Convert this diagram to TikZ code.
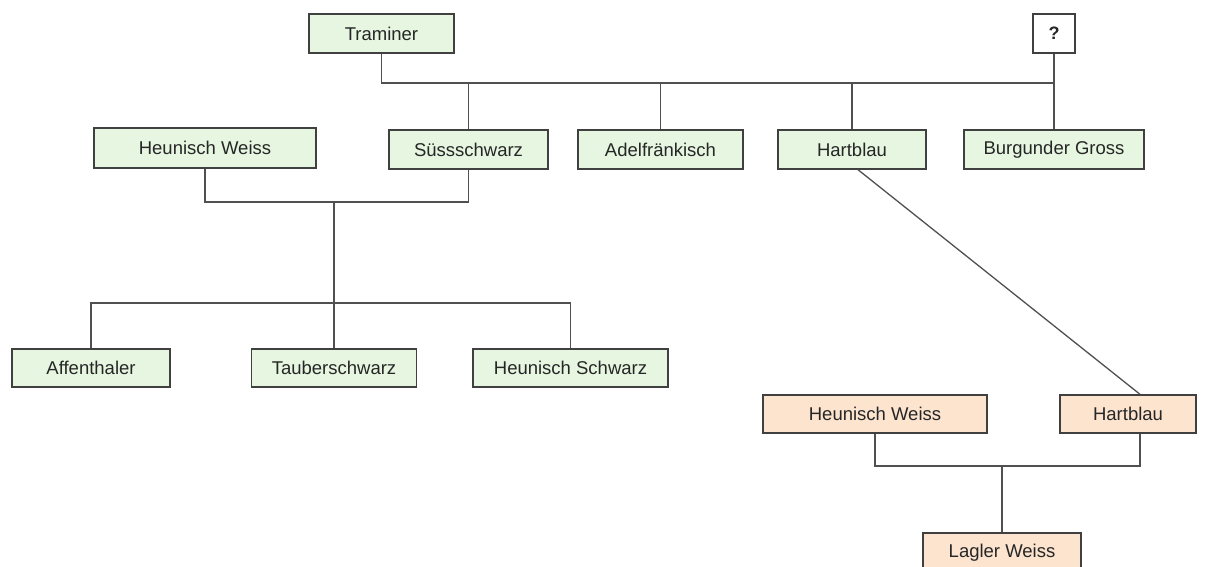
\documentclass[tikz,border=0pt]{standalone}
\usepackage{fontspec}
\setmainfont{Liberation Sans}
\definecolor{gfill}{HTML}{E6F6E0}
\definecolor{ofill}{HTML}{FCE4CF}
\definecolor{bord}{HTML}{404040}
\definecolor{lin}{HTML}{505050}
\begin{document}
\begin{tikzpicture}[x=1pt,y=-1pt,
  box/.style={draw=bord,line width=1.4pt,minimum height=39pt,inner sep=0pt,
    font=\fontsize{18.5}{20}\selectfont,text=black!85},
  gbox/.style={box,fill=gfill},
  obox/.style={box,fill=ofill},
  qbox/.style={box,fill=white,font=\fontsize{18}{20}\selectfont\bfseries},
  conn/.style={draw=lin,line width=1.7pt}]
\useasboundingbox (0,0) rectangle (1209,566);
\node[gbox,minimum width=145pt] (trm) at (381.5,33.5) {Traminer};
\node[qbox,minimum width=42pt] (q) at (1054,33.5) {?};
\node[gbox,minimum width=222pt,minimum height=40pt] (hw1) at (205,148) {Heunisch Weiss};
\node[gbox,minimum width=159pt] (sus) at (468.5,149.5) {Süssschwarz};
\node[gbox,minimum width=165pt] (adf) at (660.5,149.5) {Adelfränkisch};
\node[gbox,minimum width=148pt] (hb1) at (852,149.5) {Hartblau};
\node[gbox,minimum width=180pt] (bg) at (1054,149.5) {Burgunder Gross};
\node[gbox,minimum width=158pt,minimum height=38pt] (aff) at (91,368) {Affenthaler};
\node[gbox,minimum width=165pt,minimum height=38pt] (tau) at (334,368) {Tauberschwarz};
\node[gbox,minimum width=195pt,minimum height=38pt] (hs) at (570.5,368) {Heunisch Schwarz};
\node[obox,minimum width=224pt,minimum height=38pt] (hw2) at (875,414) {Heunisch Weiss};
\node[obox,minimum width=136pt,minimum height=38pt] (hb2) at (1128,414) {Hartblau};
\node[obox,minimum width=158pt,minimum height=40pt] (lw) at (1002,553) {Lagler Weiss};
\coordinate (bar1) at (0,83);
\coordinate (bar2) at (0,202);
\coordinate (bar3) at (0,303);
\coordinate (bar4) at (0,466);
\coordinate (m1) at (334,202);
\coordinate (m2) at (1002,466);
% top family
\draw[conn] (trm.south) |- (q.south |- bar1) -- (q.south);
\draw[conn] (q.south |- bar1) -- (bg.north);
\draw[conn] (sus.north) -- (sus.north |- bar1);
\draw[conn] (adf.north) -- (adf.north |- bar1);
\draw[conn] (hb1.north) -- (hb1.north |- bar1);
% second family
\draw[conn] (hw1.south) |- (sus.south |- bar2) -- (sus.south);
\draw[conn] (m1) -- (tau.north);
\draw[conn] (aff.north) |- (hs.north |- bar3) -- (hs.north);
% diagonal
\draw[conn,line width=1.3pt] ([xshift=6pt]hb1.south) -- ([xshift=12pt]hb2.north);
% third family
\draw[conn] (hw2.south) |- ([xshift=12pt]hb2.south |- bar4) -- ([xshift=12pt]hb2.south);
\draw[conn] (m2) -- (lw.north);
\end{tikzpicture}
\end{document}
